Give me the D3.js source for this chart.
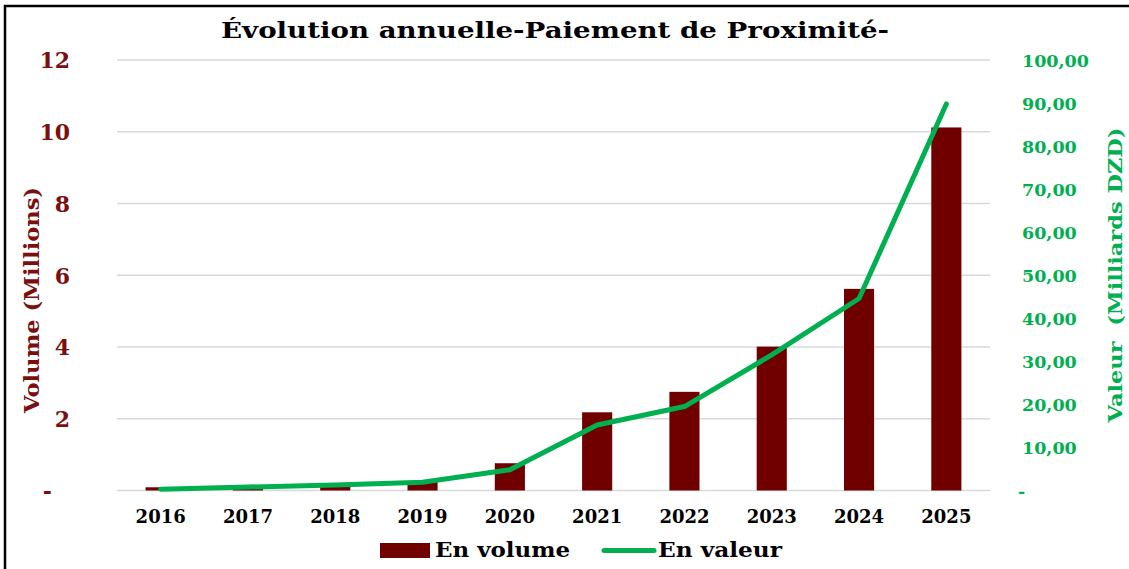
<!DOCTYPE html>
<html><head><meta charset="utf-8">
<script src="https://cdn.jsdelivr.net/npm/d3@7"></script>
<style>
html,body{margin:0;padding:0;background:#fff;}
svg{display:block;}
text{font-family:"DejaVu Serif",serif;font-weight:bold;}
</style></head>
<body>
<svg id="c" width="1129" height="569"></svg>
<script>
const years = ["2016","2017","2018","2019","2020","2021","2022","2023","2024","2025"];
const volume = [0.09, 0.05, 0.18, 0.26, 0.76, 2.18, 2.75, 4.01, 5.62, 10.12];
const valeur = [0.3, 0.8, 1.3, 1.9, 4.8, 15.2, 19.5, 31.5, 44.6, 89.8];
const leftTicks = [0, 2, 4, 6, 8, 10, 12];
const rightTicks = [0, 10, 20, 30, 40, 50, 60, 70, 80, 90, 100];
const title = "Évolution annuelle-Paiement de Proximité-";
const leftTitle = "Volume (Millions)";
const rightTitle = "Valeur  (Milliards DZD)";
const legendLabels = ["En volume", "En valeur"];

const svg = d3.select("#c");
const RED = "#700000", RED_T = "#7a0f0f", GREEN = "#00B050";
const x = d3.scaleBand().domain(years).range([117, 990]).paddingInner(0.655).paddingOuter(0.3275);
const yL = d3.scaleLinear().domain([0, 12]).range([490.5, 60]);
const yR = d3.scaleLinear().domain([0, 100]).range([490.5, 60]);
const fr = d3.formatLocale({decimal: ",", thousands: " ", grouping: [3], currency: ["", ""]}).format(".2f");

// frame
svg.append("rect").attr("x", 5).attr("y", 6).attr("width", 1140).attr("height", 580)
  .attr("fill", "none").attr("stroke", "#000").attr("stroke-width", 2.5);

// gridlines
svg.append("g").selectAll("line").data(leftTicks).join("line")
  .attr("x1", 117).attr("x2", 990).attr("y1", d => yL(d)).attr("y2", d => yL(d))
  .attr("stroke", "#d9d9d9").attr("stroke-width", 1.5);

// left axis
const gl = svg.append("g").attr("transform", "translate(70,0)")
  .call(d3.axisLeft(yL).tickValues(leftTicks).tickSize(0).tickPadding(0).tickFormat(d => d === 0 ? "-" : d));
gl.select(".domain").remove();
gl.selectAll("text").attr("fill", RED_T).attr("font-size", 22).attr("font-family", "DejaVu Serif")
  .attr("font-weight", "bold").attr("dy", "0.36em")
  .attr("dx", d => d === 0 ? -18 : 0);

// right axis
const gr = svg.append("g").attr("transform", "translate(1022,0)")
  .call(d3.axisRight(yR).tickValues(rightTicks).tickSize(0).tickPadding(0).tickFormat(d => d === 0 ? "-" : fr(d)));
gr.select(".domain").remove();
gr.selectAll("text").attr("fill", GREEN).attr("font-size", 17.5).attr("font-family", "DejaVu Serif")
  .attr("font-weight", "bold").attr("dy", "0.36em").attr("dx", d => d === 0 ? -4 : 0);

// x axis
const gx = svg.append("g").attr("transform", "translate(0,490.5)")
  .call(d3.axisBottom(x).tickSize(0).tickPadding(0));
gx.select(".domain").remove();
gx.selectAll("text").attr("fill", "#000").attr("font-size", 18).attr("font-family", "DejaVu Serif")
  .attr("font-weight", "bold").attr("y", 32).attr("dy", 0);

// bars
svg.append("g").selectAll("rect").data(years).join("rect")
  .attr("x", d => x(d)).attr("width", x.bandwidth())
  .attr("y", (d, i) => yL(volume[i])).attr("height", (d, i) => yL(0) - yL(volume[i]))
  .attr("fill", RED);

// line
const line = d3.line().x((d, i) => x(years[i]) + x.bandwidth() / 2).y(d => yR(d));
svg.append("path").datum(valeur).attr("d", line).attr("fill", "none")
  .attr("stroke", GREEN).attr("stroke-width", 5).attr("stroke-linejoin", "round").attr("stroke-linecap", "round");

// title
svg.append("text").attr("x", 555).attr("y", 38).attr("text-anchor", "middle")
  .attr("font-size", 23).attr("fill", "#000").attr("textLength", 668).attr("lengthAdjust", "spacingAndGlyphs")
  .text(title);

// axis titles
svg.append("text").attr("transform", "translate(39,300) rotate(-90)").attr("text-anchor", "middle")
  .attr("font-size", 20).attr("fill", RED_T).attr("textLength", 226).attr("lengthAdjust", "spacingAndGlyphs")
  .text(leftTitle);
svg.append("text").attr("transform", "translate(1122,275) rotate(-90)").attr("text-anchor", "middle")
  .attr("font-size", 19).attr("fill", GREEN).attr("textLength", 295).attr("lengthAdjust", "spacingAndGlyphs")
  .style("white-space", "pre").text(rightTitle);

// legend
svg.append("rect").attr("x", 380).attr("y", 543).attr("width", 50).attr("height", 15).attr("fill", RED);
svg.append("text").attr("x", 435).attr("y", 557).attr("font-size", 20).attr("fill", "#000")
  .attr("textLength", 135).attr("lengthAdjust", "spacingAndGlyphs").text(legendLabels[0]);
svg.append("line").attr("x1", 604).attr("x2", 654).attr("y1", 550.5).attr("y2", 550.5)
  .attr("stroke", GREEN).attr("stroke-width", 5).attr("stroke-linecap", "round");
svg.append("text").attr("x", 658).attr("y", 557).attr("font-size", 20).attr("fill", "#000")
  .attr("textLength", 124).attr("lengthAdjust", "spacingAndGlyphs").text(legendLabels[1]);
</script>
</body></html>
